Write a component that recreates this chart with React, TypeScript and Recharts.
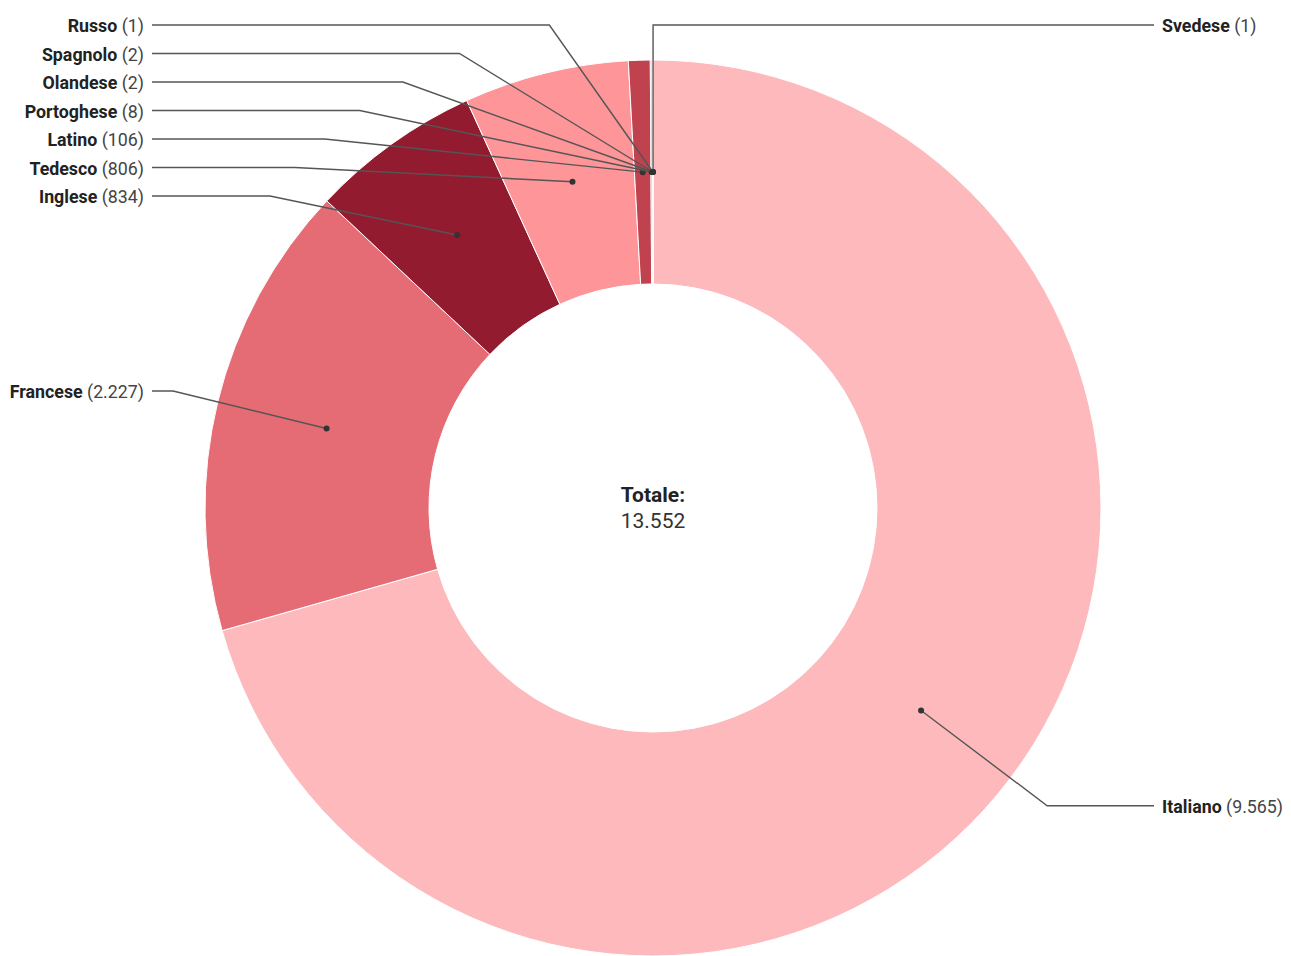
import React from "react";
import { Cell, Label, Pie, PieChart } from "recharts";

// order is clockwise from 12 o'clock
const languages = [
  "Svedese",
  "Italiano",
  "Francese",
  "Inglese",
  "Tedesco",
  "Latino",
  "Portoghese",
  "Olandese",
  "Spagnolo",
  "Russo",
];
const counts = [1, 9565, 2227, 834, 806, 106, 8, 2, 2, 1];
const colors = [
  "#fcd5d7",
  "#fdb9bc",
  "#e56c74",
  "#921b2f",
  "#fe9598",
  "#c0424f",
  "#d95560",
  "#a82a3c",
  "#f27b82",
  "#7a1526",
];

const W = 1291;
const H = 956;
const CX = 653;
const CY = 508;
const INNER = 224;
const OUTER = 448;
const DOT_R = 336;
const LABEL_R = 494;
const LABEL_GAP = 28.5;
const LABEL_TOP = 25;
const LABEL_OFFSET = 509;

const fmt = (n: number) => String(n).replace(/\B(?=(\d{3})+(?!\d))/g, ".");

const data = languages.map((name, i) => ({ name, value: counts[i] }));
const total = counts.reduce((a, b) => a + b, 0);

// label placement: natural spot on a circle, then pushed apart per side
function layoutLabels() {
  let acc = 0;
  const items = counts.map((v, i) => {
    const theta = ((acc + v / 2) / total) * 2 * Math.PI;
    acc += v;
    const side = Math.sin(theta) >= 0 ? 1 : -1;
    return { i, side, y: CY - LABEL_R * Math.cos(theta) };
  });
  const out: { side: number; y: number }[] = [];
  [1, -1].forEach((side) => {
    const list = items.filter((d) => d.side === side).sort((a, b) => a.y - b.y);
    let prev = -Infinity;
    list.forEach((d) => {
      const y = Math.max(d.y, LABEL_TOP, prev + LABEL_GAP);
      prev = y;
      out[d.i] = { side, y };
    });
  });
  return out;
}

const labelPos = layoutLabels();

function renderLabel(props: any) {
  const { index, midAngle } = props;
  const rad = (-midAngle * Math.PI) / 180;
  const dx = CX + DOT_R * Math.cos(rad);
  const dy = CY + DOT_R * Math.sin(rad);
  const { side, y } = labelPos[index];
  const off = y - CY;
  let ex = CX + side * Math.sqrt(Math.max(LABEL_R * LABEL_R - off * off, 0));
  if (side > 0 && Math.abs(dx - CX) < 2) ex = dx;
  const tx = CX + side * LABEL_OFFSET;
  const lx = CX + side * (LABEL_OFFSET - 8);
  return (
    <g key={`lbl-${index}`}>
      <polyline
        points={`${lx},${y} ${ex},${y} ${dx},${dy}`}
        fill="none"
        stroke="#555"
        strokeWidth={1.4}
      />
      <circle cx={dx} cy={dy} r={3} fill="#333" />
      <text
        x={tx}
        y={y}
        textAnchor={side > 0 ? "start" : "end"}
        dominantBaseline="central"
        fontSize={17.8}
      >
        <tspan fontWeight="bold" fill="#222">
          {languages[index]}
        </tspan>
        <tspan fill="#444"> ({fmt(counts[index])})</tspan>
      </text>
    </g>
  );
}

function CenterLabel(props: any) {
  return (
    <g>
      <text x={CX} y={CY - 13} textAnchor="middle" dominantBaseline="central" fontSize={21} fontWeight="bold" fill="#222">
        Totale:
      </text>
      <text x={CX} y={CY + 13} textAnchor="middle" dominantBaseline="central" fontSize={21} fill="#333">
        {fmt(total)}
      </text>
    </g>
  );
}

export default function App() {
  return (
    <div style={{ position: "absolute", left: 0, top: 0, width: W, height: H, background: "#fff", fontFamily: "Roboto, sans-serif" }}>
      <PieChart width={W} height={H} margin={{ top: 0, right: 0, bottom: 0, left: 0 }}>
        <Pie
          data={data}
          dataKey="value"
          nameKey="name"
          cx={CX}
          cy={CY}
          innerRadius={INNER}
          outerRadius={OUTER}
          startAngle={90}
          endAngle={-270}
          stroke="#fff"
          strokeWidth={1}
          label={renderLabel}
          labelLine={false}
          isAnimationActive={false}
        >
          {data.map((d, i) => (
            <Cell key={d.name} fill={colors[i]} />
          ))}
          <Label position="center" content={<CenterLabel />} />
        </Pie>
      </PieChart>
    </div>
  );
}
